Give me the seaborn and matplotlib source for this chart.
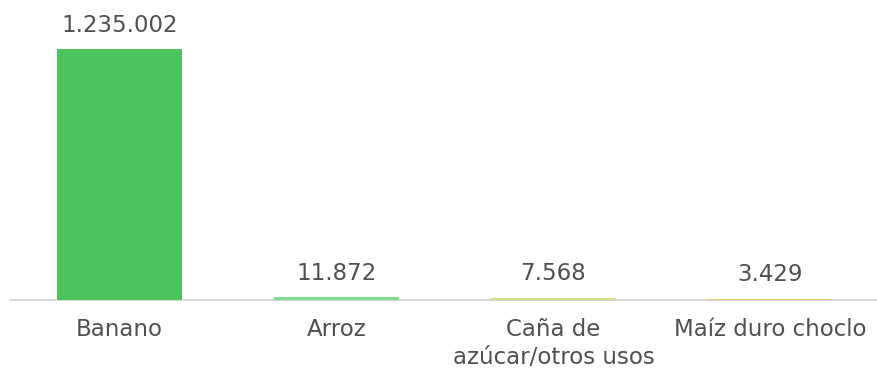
import matplotlib
matplotlib.use("Agg")
import matplotlib.pyplot as plt
import seaborn as sns
import pandas as pd

categories = ["Banano", "Arroz", "Caña de\nazúcar/otros usos", "Maíz duro choclo"]
values = [1235002, 11872, 7568, 3429]
value_labels = ["1.235.002", "11.872", "7.568", "3.429"]
colors = ["#4CC35F", "#7EDD8F", "#D3E28A", "#F2C46E"]

sns.set_theme(style="white")
plt.rcParams["font.family"] = ["DejaVu Sans"]

df = pd.DataFrame({"cat": categories, "val": values})

fig = plt.figure(figsize=(8.78, 3.71), dpi=100)
ax = fig.add_axes([11 / 878, 71.5 / 371, 868 / 878, 299.5 / 371])

sns.barplot(data=df, x="cat", y="val", hue="cat", palette=colors,
            width=0.576, legend=False, ax=ax, saturation=1, linewidth=0)

ax.set_ylim(0, 1476600)
ax.set_xlim(-0.5, 3.5)
for s in ["top", "right", "left"]:
    ax.spines[s].set_visible(False)
ax.spines["bottom"].set_color("#D9D9D9")
ax.spines["bottom"].set_linewidth(1.5)
ax.spines["bottom"].set_zorder(0)
ax.set_yticks([])
ax.set_xlabel("")
ax.set_ylabel("")
ax.tick_params(axis="x", length=0, pad=13, labelsize=16.5, labelcolor="#505050")
for lab in ax.get_xticklabels():
    lab.set_verticalalignment("top")
    lab.set_linespacing(1.3)

for i, (v, t) in enumerate(zip(values, value_labels)):
    ax.annotate(t, (i, v), xytext=(0, 9), textcoords="offset points",
                ha="center", va="bottom", fontsize=16.5, color="#505050")

fig.savefig("out.png", dpi=100)
